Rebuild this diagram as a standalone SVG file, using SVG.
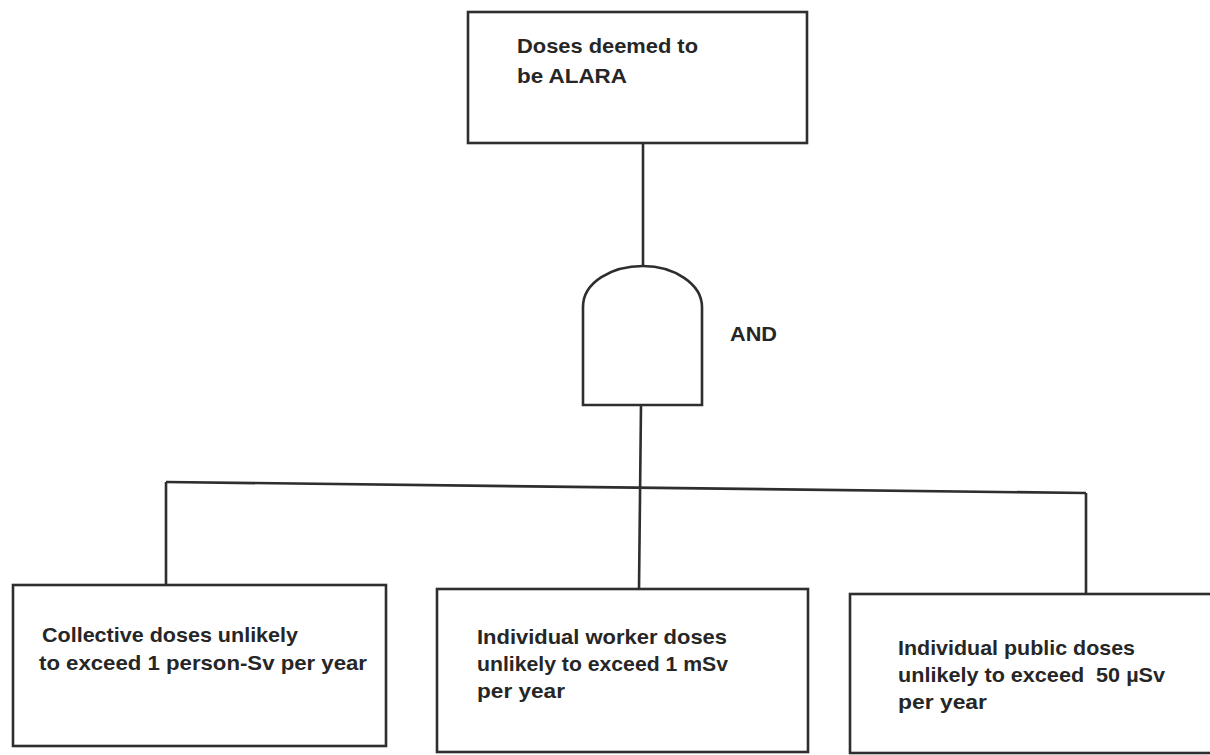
<svg xmlns="http://www.w3.org/2000/svg" width="1210" height="755" viewBox="0 0 1210 755">
<style>
.box{fill:#fff;stroke:#2e2e2e;stroke-width:2.6}
.wire{fill:none;stroke:#2e2e2e;stroke-width:2.6}
.t{font-family:"Liberation Sans",Arial,sans-serif;font-size:21px;fill:#262626;font-weight:bold}
</style>
<rect width="1210" height="755" fill="#fff"/>
<g id="connectors">
<line class="wire" x1="643" y1="143" x2="643" y2="266"/>
<line class="wire" x1="641" y1="405" x2="639" y2="589"/>
<line class="wire" x1="166" y1="482" x2="1086" y2="493"/>
<line class="wire" x1="166" y1="482" x2="166" y2="585"/>
<line class="wire" x1="1086" y1="493" x2="1086" y2="594"/>
</g>
<g id="top">
<rect class="box" x="468" y="12" width="339" height="131"/>
<text class="t" x="517" y="53" textLength="181" lengthAdjust="spacingAndGlyphs">Doses deemed to</text>
<text class="t" x="517" y="83" textLength="110" lengthAdjust="spacingAndGlyphs">be ALARA</text>
</g>
<g id="gate">
<path class="box" d="M583,405 L583,307 C583,282 612,266 643,266 C674,266 702,284 702,307 L702,405 Z"/>
<text class="t" x="730" y="341" textLength="47" lengthAdjust="spacingAndGlyphs">AND</text>
</g>
<g id="left">
<rect class="box" x="13" y="585" width="373" height="161"/>
<text class="t" x="42" y="642" textLength="256" lengthAdjust="spacingAndGlyphs">Collective doses unlikely</text>
<text class="t" x="39" y="670" textLength="328" lengthAdjust="spacingAndGlyphs">to exceed 1 person-Sv per year</text>
</g>
<g id="middle">
<rect class="box" x="437" y="589" width="371" height="163"/>
<text class="t" x="477" y="644" textLength="250" lengthAdjust="spacingAndGlyphs">Individual worker doses</text>
<text class="t" x="477" y="671" textLength="251" lengthAdjust="spacingAndGlyphs">unlikely to exceed 1 mSv</text>
<text class="t" x="477" y="698" textLength="88" lengthAdjust="spacingAndGlyphs">per year</text>
</g>
<g id="right">
<rect class="box" x="850" y="594" width="380" height="159"/>
<text class="t" x="898" y="655" textLength="237" lengthAdjust="spacingAndGlyphs">Individual public doses</text>
<text class="t" x="898" y="682" textLength="267" lengthAdjust="spacingAndGlyphs" xml:space="preserve">unlikely to exceed  50 µSv</text>
<text class="t" x="898" y="709" textLength="89" lengthAdjust="spacingAndGlyphs">per year</text>
</g>
</svg>
